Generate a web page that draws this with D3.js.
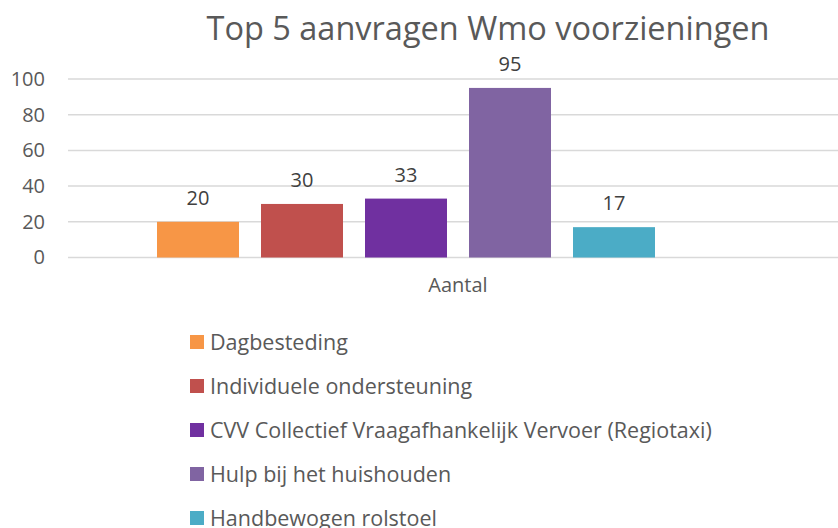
<!DOCTYPE html>
<html>
<head>
<meta charset="utf-8">
<script src="https://cdn.jsdelivr.net/npm/d3@7"></script>
<style>
  body { margin: 0; background: #fff; }
  svg { display: block; font-family: "Open Sans", sans-serif; }
</style>
</head>
<body>
<svg id="chart" width="838" height="528"></svg>
<script>
var categories = ["Aantal"];
var seriesNames = [
  "Dagbesteding",
  "Individuele ondersteuning",
  "CVV Collectief Vraagafhankelijk Vervoer (Regiotaxi)",
  "Hulp bij het huishouden",
  "Handbewogen rolstoel"
];
var seriesValues = [20, 30, 33, 95, 17];
var seriesColors = ["#f79646", "#c0504d", "#7030a0", "#8064a2", "#4bacc6"];
var yTicks = [0, 20, 40, 60, 80, 100];

var dimensions = {
  width: 838,
  height: 528,
  margin: { top: 79, right: -10, bottom: 270.5, left: 68 }
};
dimensions.boundedWidth = dimensions.width - dimensions.margin.left - dimensions.margin.right;
dimensions.boundedHeight = dimensions.height - dimensions.margin.top - dimensions.margin.bottom;

var svg = d3.select("#chart");

var xScale = d3.scaleBand()
  .domain(categories)
  .range([0, dimensions.boundedWidth])
  .paddingOuter(0);

// six slots in the cluster (the sixth is empty in the source)
var slots = d3.range(6);
var xInner = d3.scaleBand()
  .domain(slots)
  .range([89, xScale.bandwidth() - 89])
  .paddingInner(22 / 104)
  .paddingOuter(0);

var yScale = d3.scaleLinear()
  .domain([0, 100])
  .range([dimensions.boundedHeight, 0]);

var bounds = svg.append("g")
  .attr("transform", "translate(" + dimensions.margin.left + "," + dimensions.margin.top + ")");

// gridlines
bounds.append("g")
  .selectAll("line")
  .data(yTicks)
  .enter()
  .append("line")
  .attr("x1", 0)
  .attr("x2", dimensions.boundedWidth)
  .attr("y1", function (d) { return yScale(d); })
  .attr("y2", function (d) { return yScale(d); })
  .attr("stroke", "#d9d9d9")
  .attr("stroke-width", 1.5);

// y axis labels
var yAxis = d3.axisLeft(yScale).tickValues(yTicks).tickSize(0).tickPadding(23);
var yAxisG = bounds.append("g").call(yAxis);
yAxisG.select(".domain").remove();
yAxisG.selectAll("text")
  .style("font-size", "20px")
  .style("font-family", "'Open Sans', sans-serif")
  .attr("fill", "#595959");

// x axis label
var xAxis = d3.axisBottom(xScale).tickSize(0).tickPadding(20);
var xAxisG = bounds.append("g")
  .attr("transform", "translate(0," + dimensions.boundedHeight + ")")
  .call(xAxis);
xAxisG.select(".domain").remove();
xAxisG.selectAll("text")
  .style("font-size", "20px")
  .style("font-family", "'Open Sans', sans-serif")
  .attr("fill", "#595959");

var barData = seriesValues.map(function (v, i) {
  return { cat: categories[0], slot: i, value: v, color: seriesColors[i] };
});

bounds.selectAll("rect.bar")
  .data(barData)
  .enter()
  .append("rect")
  .attr("class", "bar")
  .attr("x", function (d) { return xScale(d.cat) + xInner(d.slot); })
  .attr("width", xInner.bandwidth())
  .attr("y", function (d) { return yScale(d.value); })
  .attr("height", function (d) { return dimensions.boundedHeight - yScale(d.value); })
  .attr("fill", function (d) { return d.color; });

// data labels
bounds.selectAll("text.label")
  .data(barData)
  .enter()
  .append("text")
  .attr("class", "label")
  .attr("x", function (d) { return xScale(d.cat) + xInner(d.slot) + xInner.bandwidth() / 2; })
  .attr("y", function (d) { return yScale(d.value) - 17; })
  .attr("text-anchor", "middle")
  .style("font-size", "20px")
  .attr("fill", "#404040")
  .text(function (d) { return d.value; });

// title
svg.append("text")
  .attr("x", 488)
  .attr("y", 40)
  .attr("text-anchor", "middle")
  .style("font-size", "32.5px")
  .attr("fill", "#595959")
  .text("Top 5 aanvragen Wmo voorzieningen");

// legend
var legend = svg.append("g").attr("transform", "translate(190,342)");
var items = legend.selectAll("g")
  .data(seriesNames)
  .enter()
  .append("g")
  .attr("transform", function (d, i) { return "translate(0," + i * 44 + ")"; });
items.append("rect")
  .attr("x", 0)
  .attr("y", -7)
  .attr("width", 14)
  .attr("height", 14)
  .attr("fill", function (d, i) { return seriesColors[i]; });
items.append("text")
  .attr("x", 20)
  .attr("y", 8)
  .style("font-size", "21.5px")
  .attr("fill", "#595959")
  .text(function (d) { return d; });
</script>
</body>
</html>
